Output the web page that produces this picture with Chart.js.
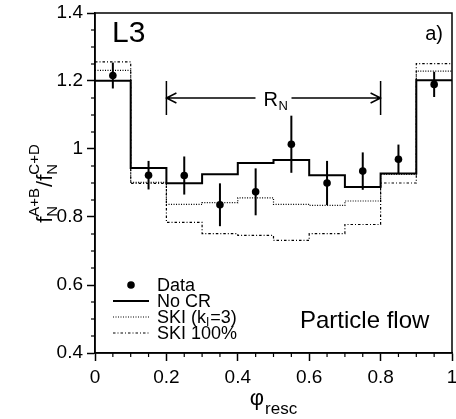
<!DOCTYPE html>
<html>
<head>
<meta charset="utf-8">
<script src="https://cdn.jsdelivr.net/npm/chart.js@4.4.1/dist/chart.umd.min.js"></script>
<style>
  html, body { margin: 0; padding: 0; background: #fff; }
</style>
</head>
<body>
<canvas id="chart" width="456" height="419"></canvas>
<script>
// bins in phi_resc
const binEdges = [0, 0.1, 0.2, 0.3, 0.4, 0.5, 0.6, 0.7, 0.8, 0.9, 1.0];
const binCenters = [0.05, 0.15, 0.25, 0.35, 0.45, 0.55, 0.65, 0.75, 0.85, 0.95];

// measured ratio with errors
const dataValues = [1.216, 0.923, 0.922, 0.836, 0.874, 1.014, 0.900, 0.935, 0.970, 1.190];
const dataErrors = [0.038, 0.042, 0.056, 0.063, 0.069, 0.084, 0.065, 0.055, 0.043, 0.037];

// model histograms
const noCR   = [1.201, 0.944, 0.899, 0.926, 0.959, 0.968, 0.923, 0.888, 0.928, 1.202];
const skiK3  = [1.231, 0.902, 0.837, 0.842, 0.856, 0.837, 0.834, 0.847, 0.925, 1.229];
const ski100 = [1.256, 0.899, 0.784, 0.751, 0.746, 0.731, 0.751, 0.778, 0.900, 1.251];

const xTickLabels = ['0', '0.2', '0.4', '0.6', '0.8', '1'];
const yTickLabels = ['0.4', '0.6', '0.8', '1', '1.2', '1.4'];

// R_N range arrow
const rnRange = [0.2, 0.8];
const rnLevel = 1.15;

const FONT = '"Liberation Sans", Arial, Helvetica, sans-serif';

function steps(vals) {
    return binEdges.map((e, i) => ({ x: e, y: vals[Math.min(i, vals.length - 1)] }));
}

const overlay = {
    id: 'overlay',
    afterDatasetsDraw(chart) {
        const ctx = chart.ctx;
        const xs = chart.scales.x, ys = chart.scales.y;
        const area = chart.chartArea;
        ctx.save();
        ctx.strokeStyle = '#000';
        ctx.fillStyle = '#000';

        // error bars
        ctx.lineWidth = 2;
        binCenters.forEach((c, i) => {
            const px = xs.getPixelForValue(c);
            ctx.beginPath();
            ctx.moveTo(px, ys.getPixelForValue(dataValues[i] - dataErrors[i]));
            ctx.lineTo(px, ys.getPixelForValue(dataValues[i] + dataErrors[i]));
            ctx.stroke();
        });

        // frame
        ctx.lineWidth = 1.5;
        ctx.strokeRect(area.left, area.top, area.right - area.left, area.bottom - area.top);

        // minor ticks
        ctx.lineWidth = 1.2;
        for (let k = 1; k < 20; k++) {
            if (k % 4 === 0) continue;
            const px = xs.getPixelForValue(k * 0.05);
            ctx.beginPath(); ctx.moveTo(px, area.bottom); ctx.lineTo(px, area.bottom + 4); ctx.stroke();
        }
        for (let k = 1; k < 20; k++) {
            if (k % 4 === 0) continue;
            const py = ys.getPixelForValue(0.4 + k * 0.05);
            ctx.beginPath(); ctx.moveTo(area.left, py); ctx.lineTo(area.left - 4, py); ctx.stroke();
        }

        // R_N arrow
        const ay = ys.getPixelForValue(rnLevel);
        const a0 = xs.getPixelForValue(rnRange[0]);
        const a1 = xs.getPixelForValue(rnRange[1]);
        const mid = (a0 + a1) / 2;
        ctx.lineWidth = 1.5;
        ctx.beginPath();
        ctx.moveTo(a0, ay - 17); ctx.lineTo(a0, ay + 17);
        ctx.moveTo(a1, ay - 17); ctx.lineTo(a1, ay + 17);
        ctx.moveTo(a0, ay); ctx.lineTo(mid - 18, ay);
        ctx.moveTo(mid + 18, ay); ctx.lineTo(a1, ay);
        ctx.moveTo(a0 + 10, ay - 5); ctx.lineTo(a0, ay); ctx.lineTo(a0 + 10, ay + 5);
        ctx.moveTo(a1 - 10, ay - 5); ctx.lineTo(a1, ay); ctx.lineTo(a1 - 10, ay + 5);
        ctx.stroke();
        ctx.textBaseline = 'alphabetic';
        ctx.textAlign = 'left';
        ctx.font = '20px ' + FONT;
        ctx.fillText('R', mid - 10, ay + 8);
        ctx.font = '13px ' + FONT;
        ctx.fillText('N', mid + 5, ay + 12);

        // corner texts
        ctx.font = '30px ' + FONT;
        ctx.fillText('L3', area.left + 17, 42);
        ctx.font = '20px ' + FONT;
        ctx.textAlign = 'right';
        ctx.fillText('a)', area.right - 9, 40);
        ctx.textAlign = 'left';
        ctx.font = '24px ' + FONT;
        ctx.fillText('Particle flow', 300, 328);

        // legend
        const lx0 = 113, lx1 = 149, tx = 157;
        const rows = [285, 301, 317, 333];
        ctx.font = '18px ' + FONT;
        ctx.textBaseline = 'middle';
        chart.data.datasets.forEach((ds, i) => {
            const y = rows[i];
            if (i === 0) {
                ctx.beginPath(); ctx.arc((lx0 + lx1) / 2, y, 3.8, 0, Math.PI * 2); ctx.fill();
            } else {
                ctx.save();
                ctx.lineWidth = ds.borderWidth;
                ctx.setLineDash(ds.borderDash || []);
                ctx.beginPath(); ctx.moveTo(lx0, y); ctx.lineTo(lx1, y); ctx.stroke();
                ctx.restore();
            }
            const parts = ds.label.split('_');
            if (parts.length === 1) {
                ctx.fillText(ds.label, tx, y + 1);
            } else {
                let x = tx;
                ctx.fillText(parts[0], x, y + 1); x += ctx.measureText(parts[0]).width;
                ctx.font = '12px ' + FONT;
                ctx.fillText(parts[1][0], x, y + 6); x += ctx.measureText(parts[1][0]).width + 1;
                ctx.font = '18px ' + FONT;
                ctx.fillText(parts[1].slice(1), x, y + 1);
            }
        });

        // x title
        ctx.textBaseline = 'alphabetic';
        const cx = (area.left + area.right) / 2;
        ctx.font = '22px ' + FONT;
        const wPhi = ctx.measureText('φ').width;
        ctx.font = '17px ' + FONT;
        const wSub = ctx.measureText('resc').width;
        let x = cx - (wPhi + wSub + 1) / 2;
        ctx.font = '22px ' + FONT;
        ctx.fillText('φ', x, 405);
        ctx.font = '17px ' + FONT;
        ctx.fillText('resc', x + wPhi + 1, 414);

        // y title (rotated)
        ctx.save();
        ctx.translate(52, (area.top + area.bottom) / 2);
        ctx.rotate(-Math.PI / 2);
        const big = '22px ' + FONT, small = '15px ' + FONT;
        const pieces = [
            { t: 'f' }, { sub: 'N', sup: 'A+B' }, { t: '/' }, { t: 'f' }, { sub: 'N', sup: 'C+D' }
        ];
        let total = 0;
        pieces.forEach(p => {
            if (p.t) { ctx.font = big; p.w = ctx.measureText(p.t).width; }
            else { ctx.font = small; p.w = Math.max(ctx.measureText(p.sub).width, ctx.measureText(p.sup).width) + 1; }
            total += p.w;
        });
        let px = -total / 2;
        pieces.forEach(p => {
            if (p.t) { ctx.font = big; ctx.fillText(p.t, px, 0); }
            else {
                ctx.font = small;
                ctx.fillText(p.sup, px, -13);
                ctx.fillText(p.sub, px, 5);
            }
            px += p.w;
        });
        ctx.restore();

        ctx.restore();
    }
};

const ctx = document.getElementById('chart').getContext('2d');
const chart = new Chart(ctx, {
    type: 'line',
    data: {
        datasets: [
            {
                label: 'Data',
                data: binCenters.map((c, i) => ({ x: c, y: dataValues[i] })),
                showLine: false,
                pointRadius: 3.8,
                pointBackgroundColor: '#000',
                pointBorderWidth: 0
            },
            {
                label: 'No CR',
                data: steps(noCR),
                stepped: true,
                borderColor: '#000',
                borderWidth: 2,
                pointRadius: 0
            },
            {
                label: 'SKI (k_I=3)',
                data: steps(skiK3),
                stepped: true,
                borderColor: '#000',
                borderWidth: 1.2,
                borderDash: [1, 1.5],
                pointRadius: 0
            },
            {
                label: 'SKI 100%',
                data: steps(ski100),
                stepped: true,
                borderColor: '#000',
                borderWidth: 1.2,
                borderDash: [2.5, 2, 1, 2],
                pointRadius: 0
            }
        ]
    },
    options: {
        responsive: false,
        animation: false,
        devicePixelRatio: 1,
        layout: { padding: { top: 13, right: 2, left: 0, bottom: 0 } },
        plugins: {
            legend: { display: false },
            tooltip: { enabled: false }
        },
        scales: {
            x: {
                type: 'linear',
                min: 0,
                max: 1,
                ticks: {
                    stepSize: 0.2,
                    color: '#000',
                    font: { family: FONT, size: 19 },
                    padding: 5,
                    maxRotation: 0,
                    callback: (v, i) => xTickLabels[i]
                },
                grid: { drawOnChartArea: false, tickLength: 8, tickColor: '#000', tickWidth: 1.5 },
                border: { color: '#000', width: 1.5 },
                afterFit: (s) => { s.height = 66; s.paddingLeft = 0; s.paddingRight = 0; }
            },
            y: {
                min: 0.4,
                max: 1.4,
                ticks: {
                    stepSize: 0.2,
                    color: '#000',
                    font: { family: FONT, size: 19 },
                    padding: 4,
                    callback: (v, i) => yTickLabels[i]
                },
                grid: { drawOnChartArea: false, tickLength: 8, tickColor: '#000', tickWidth: 1.5 },
                border: { color: '#000', width: 1.5 },
                afterFit: (s) => { s.width = 95; s.paddingTop = 0; s.paddingBottom = 0; }
            }
        }
    },
    plugins: [overlay]
});
</script>
</body>
</html>
